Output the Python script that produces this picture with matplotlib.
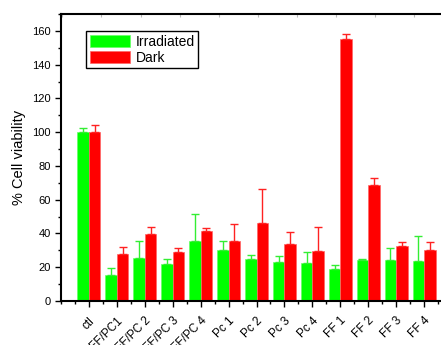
import numpy as np
import matplotlib.pyplot as plt
from matplotlib.ticker import MultipleLocator

plt.rcParams['font.family'] = ['Liberation Sans', 'DejaVu Sans']

labels = ['ctl', 'FF/PC1', 'FF/PC 2', 'FF/PC 3', 'FF/PC 4', 'Pc 1', 'Pc 2',
          'Pc 3', 'Pc 4', 'FF 1', 'FF 2', 'FF 3', 'FF 4']
irradiated = [100.0, 15.2, 25.3, 22.1, 35.4, 30.0, 24.9, 22.9, 22.7, 19.0, 24.5, 24.5, 23.5]
irradiated_err = [2.3, 4.4, 10.1, 3.0, 16.0, 5.8, 2.6, 3.6, 6.1, 2.5, 0.6, 6.7, 14.8]
dark = [100.0, 28.0, 39.5, 29.0, 41.5, 35.4, 46.4, 33.6, 29.4, 155.3, 68.9, 32.4, 30.4]
dark_err = [4.1, 3.8, 4.5, 2.6, 2.0, 10.2, 20.0, 7.5, 14.2, 2.7, 4.0, 2.4, 4.4]

fig = plt.figure(figsize=(4.41, 3.45), dpi=100)
# axes extend past the right edge, like the original crop
ax = fig.add_axes([61 / 441, 44 / 345, 391 / 441, 287 / 345])

x = np.arange(len(labels))
w = 0.41
ax.bar(x - w / 2, irradiated, w, color='#00ff00', edgecolor='#66ff66', linewidth=0.5,
       yerr=[np.zeros(len(x)), irradiated_err], ecolor='#33ee33',
       error_kw=dict(capsize=3, elinewidth=1, capthick=1), label='Irradiated')
ax.bar(x + w / 2, dark, w, color='#ff0000', edgecolor='#ff6666', linewidth=0.5,
       yerr=[np.zeros(len(x)), dark_err], ecolor='#ff2222',
       error_kw=dict(capsize=3, elinewidth=1, capthick=1), label='Dark')

ax.set_xlim(-1, 13)
ax.set_ylim(0, 170)
ax.set_xticks(x)
ax.set_xticklabels(labels, rotation=45, ha='right', rotation_mode='anchor', fontsize=8.5)
ax.xaxis.set_minor_locator(MultipleLocator(0.5))
ax.set_yticks(np.arange(0, 161, 20))
ax.yaxis.set_minor_locator(MultipleLocator(10))
ax.tick_params(axis='both', which='major', direction='out', length=4, width=1, labelsize=8)
ax.tick_params(axis='x', which='major', labelsize=8.5, pad=6)
ax.tick_params(axis='both', which='minor', direction='out', length=2.5, width=1)
for s in ['left', 'bottom', 'top']:
    ax.spines[s].set_linewidth(1.5)
ax.spines['right'].set_visible(False)

# faint top axis ticks
top = ax.secondary_xaxis('top')
top.set_xticks(0.45 + 1.4 * np.arange(-1, 10))
top.tick_params(direction='in', length=2, width=0.8, color='#bbbbbb', labeltop=False)
top.spines['top'].set_visible(False)

ax.set_ylabel('% Cell viability', fontsize=10.5, labelpad=4)

leg = ax.legend(loc='upper left', bbox_to_anchor=(0.065, 0.94), fontsize=10,
                fancybox=False, edgecolor='black', framealpha=1,
                handlelength=2.9, handleheight=1.0, borderpad=0.25,
                labelspacing=0.15, handletextpad=0.4, borderaxespad=0)
leg.get_frame().set_linewidth(1)

fig.savefig('out.png', dpi=100)
